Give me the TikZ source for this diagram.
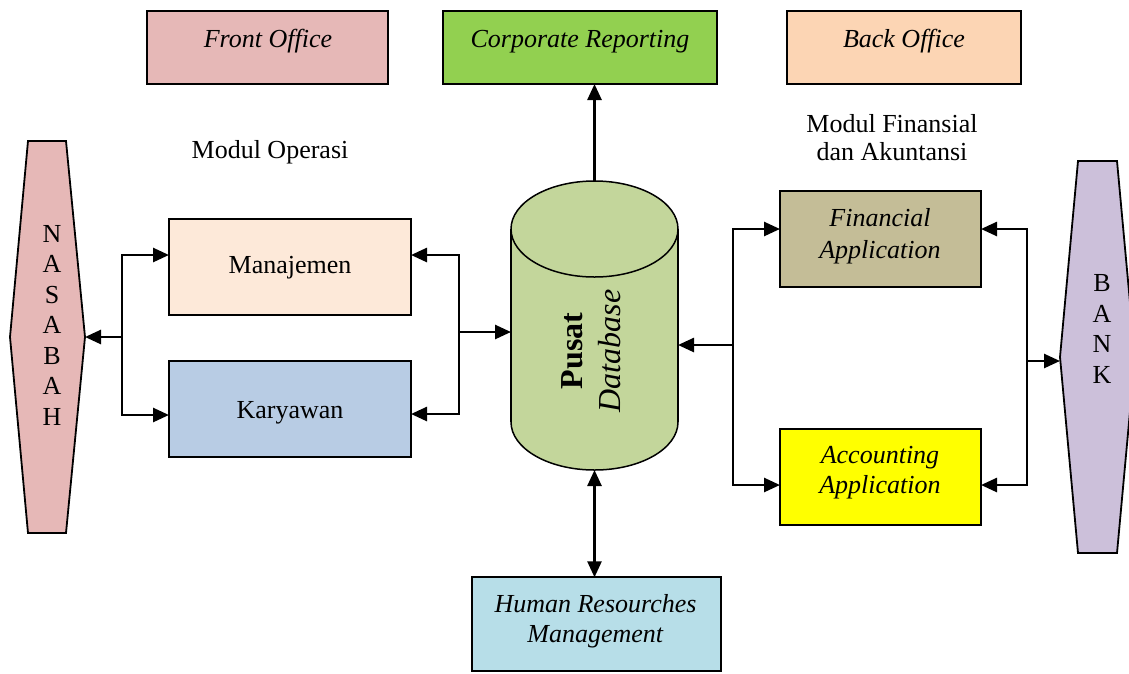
\documentclass[tikz,border=0pt]{standalone}
\usepackage{fontspec}
\setmainfont{Liberation Serif}
\usetikzlibrary{arrows.meta}
\definecolor{cFO}{HTML}{E6B8B7}
\definecolor{cCR}{HTML}{92D050}
\definecolor{cBO}{HTML}{FCD5B4}
\definecolor{cMan}{HTML}{FDE9D9}
\definecolor{cKar}{HTML}{B8CCE4}
\definecolor{cDB}{HTML}{C3D69B}
\definecolor{cFin}{HTML}{C4BD97}
\definecolor{cAcc}{HTML}{FFFF00}
\definecolor{cHRM}{HTML}{B7DEE8}
\definecolor{cNas}{HTML}{E6B8B7}
\definecolor{cBank}{HTML}{CCC0DA}
\begin{document}
\begin{tikzpicture}[x=1pt,y=-1pt,
  box/.style={draw, line width=1.8pt, inner sep=0pt, outer sep=0pt},
  txt/.style={inner sep=0pt, outer sep=0pt, font=\fontsize{26pt}{31pt}\selectfont},
  arr/.style={line width=2.6pt, -{Triangle[length=16pt,width=14pt]}},
  darr/.style={line width=2.6pt, {Triangle[length=16pt,width=14pt]}-{Triangle[length=16pt,width=14pt]}},
  hexa/.style={draw, line width=1.8pt, line join=miter}]
\useasboundingbox (0,0) rectangle (1129,673);

% top boxes
\node[box, fill=cFO, minimum width=241pt, minimum height=73pt] (fo) at (267.5,47.5) {};
\node[txt, anchor=base] (fotxt) at (268,47) {\textit{Front Office}};
\node[box, fill=cCR, minimum width=274pt, minimum height=73pt] (cr) at (580,47.5) {};
\node[txt, anchor=base] (crtxt) at (580,47) {\textit{Corporate Reporting}};
\node[box, fill=cBO, minimum width=234pt, minimum height=73pt] (bo) at (904,47.5) {};
\node[txt, anchor=base] (botxt) at (904,47) {\textit{Back Office}};

% section labels
\node[txt, anchor=base] (modop) at (270,158) {Modul Operasi};
\node[txt, align=center, font=\fontsize{26pt}{28pt}\selectfont] (modfin) at (892,137.5) {Modul Finansial\\dan Akuntansi};

% NASABAH hexagon
\draw[hexa, fill=cNas] (28,141) -- (66,141) -- (85,337) -- (66,533) -- (28,533) -- (10,337) -- cycle;
\coordinate (nasR) at (85,337);
\node[txt, align=center, font=\fontsize{26pt}{30.5pt}\selectfont] (nas) at (52,325) {N\\A\\S\\A\\B\\A\\H};

% BANK hexagon
\draw[hexa, fill=cBank] (1078,161) -- (1117,161) -- (1135,357) -- (1117,553) -- (1078,553) -- (1060,357) -- cycle;
\coordinate (bankL) at (1060,361);
\node[txt, align=center, font=\fontsize{26pt}{30.5pt}\selectfont] (bank) at (1102,329) {B\\A\\N\\K};

% left boxes
\node[box, fill=cMan, minimum width=242pt, minimum height=96pt] (man) at (290,267) {};
\node[txt, anchor=base] (mantxt) at (290,273) {Manajemen};
\node[box, fill=cKar, minimum width=242pt, minimum height=96pt] (kar) at (290,409) {};
\node[txt, anchor=base] (kartxt) at (290,418) {Karyawan};

% right boxes
\node[box, fill=cFin, minimum width=201pt, minimum height=96pt] (fin) at (880.5,239) {};
\node[txt, align=center, font=\fontsize{26pt}{32pt}\selectfont] (fintxt) at (880,236) {\textit{Financial}\\\textit{Application}};
\node[box, fill=cAcc, minimum width=201pt, minimum height=96pt] (acc) at (880.5,477) {};
\node[txt, align=center, font=\fontsize{26pt}{30pt}\selectfont] (acctxt) at (880,473) {\textit{Accounting}\\\textit{Application}};

% HRM
\node[box, fill=cHRM, minimum width=249pt, minimum height=94pt] (hrm) at (596.5,624.3) {};
\node[txt, align=center, font=\fontsize{26pt}{30pt}\selectfont] (hrmtxt) at (595.5,621) {\textit{Human Resourches}\\\textit{Management}};

% cylinder database
\fill[cDB] (511,229) rectangle (678,422);
\fill[cDB] (594.5,422) ellipse (83.5 and 48);
\draw[line width=1.5pt, fill=cDB] (594.5,229) ellipse (83.5 and 48);
\draw[line width=1.5pt] (511,229) -- (511,422);
\draw[line width=1.5pt] (678,229) -- (678,422);
\begin{scope}
  \clip (500,422) rectangle (690,480);
  \draw[line width=1.5pt] (594.5,422) ellipse (83.5 and 48);
\end{scope}
\node[minimum width=167pt, minimum height=289pt, inner sep=0pt, outer sep=0pt] (db) at (594.5,325.5) {};
\node[txt, rotate=90, align=center, font=\fontsize{32pt}{38pt}\selectfont] (dbtxt) at (591.5,351) {\textbf{Pusat}\\\textit{Database}};

% junction coordinates
\coordinate (jL) at (122,337);
\coordinate (jL1) at (122,255);
\coordinate (jL2) at (122,415);
\coordinate (jM) at (459,332);
\coordinate (jM1) at (459,255);
\coordinate (jM2) at (459,414);
\coordinate (jR) at (733,345);
\coordinate (jR1) at (733,229);
\coordinate (jR2) at (733,485);
\coordinate (jB) at (1027,361);
\coordinate (jB1) at (1027,229);
\coordinate (jB2) at (1027,485);

% connectors
\draw[arr] (jL) -- (nasR);
\draw[arr] (jL) |- (man.west |- jL1);
\draw[arr] (jL) |- (kar.west |- jL2);
\draw[arr] (jM) |- (man.east |- jM1);
\draw[arr] (jM) |- (kar.east |- jM2);
\draw[arr] (jM) -- (db.west |- jM);
\draw[arr] (jR) -- (db.east |- jR);
\draw[arr] (jR) |- (fin.west |- jR1);
\draw[arr] (jR) |- (acc.west |- jR2);
\draw[arr] (jB) |- (fin.east |- jB1);
\draw[arr] (jB) |- (acc.east |- jB2);
\draw[arr] (jB) -- (bankL);
\draw[arr] (db.north) -- (db.north |- cr.south);
\draw[darr] (db.south) -- (db.south |- hrm.north);
\end{tikzpicture}
\end{document}
